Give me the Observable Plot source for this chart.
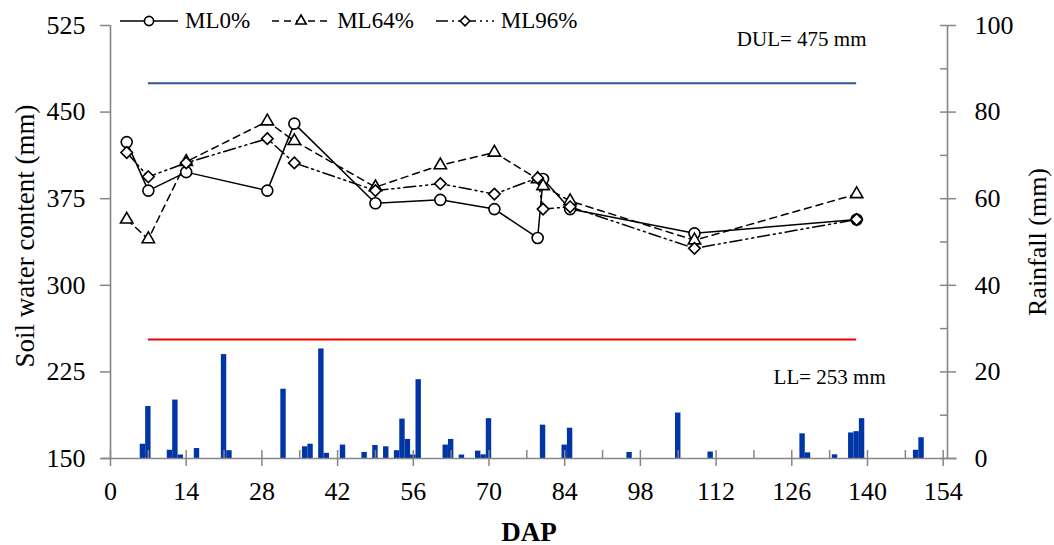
<!DOCTYPE html>
<html><head><meta charset="utf-8">
<script src="https://cdn.jsdelivr.net/npm/d3@7"></script>
<script src="https://cdn.jsdelivr.net/npm/@observablehq/plot@0.6"></script>
<style>
body{margin:0;background:#fff;}
#wrap{position:relative;width:1054px;height:545px;font-family:'Liberation Serif','Times New Roman',serif;}
#wrap > svg{position:absolute;left:0;top:0;}
#legend{position:absolute;left:120px;top:8px;display:flex;align-items:center;font-size:23px;color:#000;}
#legend .item{display:flex;align-items:center;margin-right:22px;}
#legend .item span{margin-left:7px;}
</style></head><body><div id="wrap"><div id="legend"></div></div>
<script>
// ---- data ----
const sampleDays = [3,7,14,29,34,49,61,71,79,80,85,108,138];
const ml0  = [424,382,398,382,440,371,374,366,341,392,366,345,357];
const ml64 = [357,340,407,442,425,385,404,415,392,386,373,339,379];
const ml96 = [415,394,406,427,406,382,388,379,393,366,368,332,357];
const seriesNames = ["ML0%","ML64%","ML96%"];

const rainDap = [6,7,11,12,13,16,21,22,32,36,37,39,40,43,47,49,51,53,54,55,56,57,62,63,65,68,69,70,80,84,85,96,105,111,128,129,134,137,138,139,149,150];
const rainMm  = [3.3,12,1.9,13.5,0.8,2.3,24,1.8,16,2.7,3.3,25.3,1.2,3.1,1.4,3,2.7,1.8,9.1,4.4,0.8,18.2,3.1,4.4,0.8,1.7,0.85,9.2,7.7,3.1,7,1.4,10.5,1.5,5.7,1.3,0.85,5.9,6.2,9.2,1.9,4.8];

const limitNames = ["DUL","LL"];
const limitValues = [475,253];
const limitFrom = [7,7];
const limitTo = [138,138];

const xTicks = d3.range(0,155,14);
const xMinor = d3.range(0,155,7);
const yTicks = d3.range(150,526,75);
const rTicks = d3.range(0,101,20);
const rMinor = d3.range(0,101,10);

// ---- build tables ----
const swc = [ml0, ml64, ml96].map((vals,s) => sampleDays.map((d,i)=>({dap:d, swc:vals[i], series:seriesNames[s]})));
const rain = rainDap.map((d,i)=>({dap:d, mm:rainMm[i]}));
const limits = limitNames.map((n,i)=>({name:n, value:limitValues[i], from:limitFrom[i], to:limitTo[i]}));

const font = "'Liberation Serif','Times New Roman',serif";
const gray = "#868686";
const xDomain = [0,154.8];
const yDomain = [150,525];
const rDomain = [0,100];
const common = {
  width:1054, height:545, marginLeft:110, marginRight:107, marginTop:25, marginBottom:87,
  style:{fontFamily:font, fontSize:"26px", background:"transparent", color:"#000", overflow:"visible"}
};
const styles = {
  "ML0%":  {dash:null, symbol:"circle", r:5.5},
  "ML64%": {dash:"7,5", symbol:"triangle", r:4.6},
  "ML96%": {dash:"12,4,2,4,2,4", symbol:"diamond2", r:5.2}
};

// ---- rainfall layer (right axis, x axis) ----
const rainPlot = Plot.plot({
  ...common,
  x:{domain:xDomain, label:null, axis:null},
  y:{domain:rDomain, label:null, axis:null},
  marks:[
    Plot.rectY(rain,{x1:d=>d.dap-0.5, x2:d=>d.dap+0.5, y:"mm", fill:"#0035A6"}),
    Plot.ruleY([0],{x1:()=>-1.6, x2:()=>156.6, stroke:gray, strokeWidth:1.6}),
    Plot.ruleX([xDomain[1]],{y1:()=>rDomain[0], y2:()=>rDomain[1], stroke:gray, strokeWidth:1.6}),
    Plot.axisY({anchor:"right", ticks:rTicks, tickSize:8, tickPadding:19, stroke:gray, strokeWidth:1.5, fill:"black", fontSize:26, label:null}),
    Plot.axisY({anchor:"right", ticks:rMinor, tickSize:8, dx:-8, stroke:gray, strokeWidth:1.5, fill:"none", label:null}),
    Plot.axisX({anchor:"bottom", ticks:xTicks, tickSize:8, tickPadding:15, stroke:gray, strokeWidth:1.5, fill:"black", fontSize:26, label:null}),
    Plot.axisX({anchor:"bottom", ticks:xMinor, tickSize:8, dy:-8, stroke:gray, strokeWidth:1.5, fill:"none", label:null}),
    Plot.text(["Rainfall (mm)"],{text:d=>d, frameAnchor:"right", dx:90, rotate:-90, textAnchor:"middle", lineAnchor:"middle", fontSize:26}),
    Plot.text(["DAP"],{text:d=>d, frameAnchor:"bottom", dy:74, textAnchor:"middle", lineAnchor:"middle", fontSize:27, fontWeight:"bold"})
  ]
});

// ---- soil water layer (left axis) ----
const swcMarks = [];
swc.forEach(ser => {
  const st = styles[ser[0].series];
  swcMarks.push(Plot.line(ser,{x:"dap", y:"swc", stroke:"black", strokeWidth:1.5, strokeDasharray:st.dash}));
});
swc.forEach(ser => {
  const st = styles[ser[0].series];
  swcMarks.push(Plot.dot(ser,{x:"dap", y:"swc", symbol:()=>st.symbol, r:st.r, stroke:"black", strokeWidth:1.6, fill:"white"}));
});
const swcPlot = Plot.plot({
  ...common,
  x:{domain:xDomain, label:null, axis:null},
  y:{domain:yDomain, label:null, axis:null},
  symbol:{type:"identity"},
  marks:[
    Plot.ruleX([xDomain[0]],{y1:()=>yDomain[0], y2:()=>yDomain[1], stroke:gray, strokeWidth:1.6}),
    Plot.axisY({anchor:"left", ticks:yTicks, tickSize:10, tickPadding:15, stroke:gray, strokeWidth:1.5, fill:"black", fontSize:26, label:null}),
    Plot.ruleY(limits,{y:"value", x1:"from", x2:"to", stroke:d=>d.name==="DUL"?"#2F5597":"#EE0000", strokeWidth:2}),
    Plot.text(limits.filter(d=>d.name==="DUL"),{x:"to", y:"value", text:d=>`${d.name}= ${d.value} mm`, dx:-55, dy:-44, textAnchor:"middle", lineAnchor:"middle", fontSize:21}),
    Plot.text(limits.filter(d=>d.name==="LL"),{x:"to", y:"value", text:d=>`${d.name}= ${d.value} mm`, dx:-27, dy:38, textAnchor:"middle", lineAnchor:"middle", fontSize:21}),
    ...swcMarks,
    Plot.text(["Soil water content (mm)"],{text:d=>d, frameAnchor:"left", dx:-85, dy:-6, rotate:-90, textAnchor:"middle", lineAnchor:"middle", fontSize:27})
  ]
});

const wrap = document.getElementById("wrap");
wrap.insertBefore(rainPlot, wrap.firstChild);
wrap.insertBefore(swcPlot, document.getElementById("legend"));

// ---- legend ----
const symbolMap = {circle:d3.symbolCircle, triangle:d3.symbolTriangle, diamond2:d3.symbolDiamond2};
const lg = d3.select("#legend");
seriesNames.forEach(name => {
  const st = styles[name];
  const it = lg.append("div").attr("class","item");
  const sv = it.append("svg").attr("width",58).attr("height",20);
  sv.append("line").attr("x1",0).attr("x2",58).attr("y1",10).attr("y2",10)
    .attr("stroke","black").attr("stroke-width",1.5).attr("stroke-dasharray",st.dash);
  sv.append("path").attr("transform","translate(29,10)")
    .attr("d", d3.symbol(symbolMap[st.symbol], Math.PI*st.r*st.r*0.7)())
    .attr("fill","white").attr("stroke","black").attr("stroke-width",1.6);
  it.append("span").text(name);
});
</script></body></html>
